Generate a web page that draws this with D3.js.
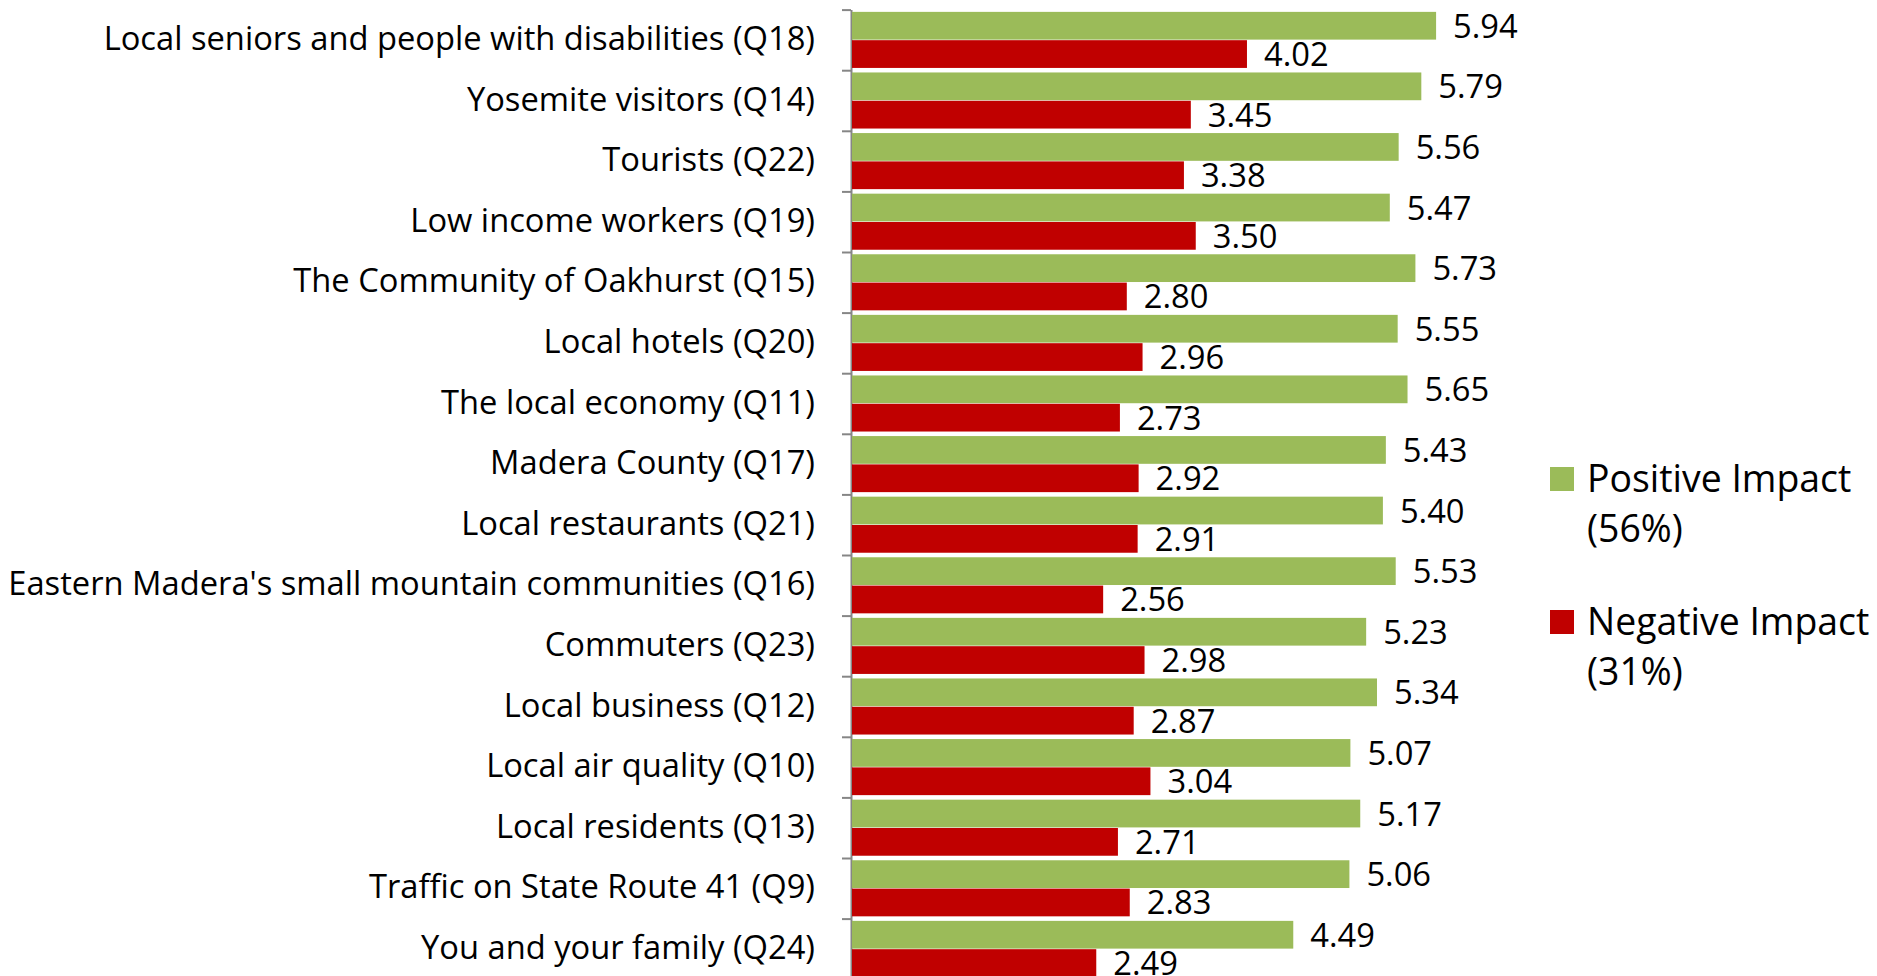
<!DOCTYPE html>
<html>
<head>
  <style>
    body {
      margin: 0;
      background: #fff;
    }
    text {
      font-family: "Open Sans", Lato, sans-serif;
      fill: #000;
    }
    .axis path, .axis line {
      stroke: #868686;
      stroke-width: 2;
    }
  </style>
</head>
<body>
  <script src="https://d3js.org/d3.v7.min.js"></script>
  <script>
    var categories = [
      "Local seniors and people with disabilities (Q18)",
      "Yosemite visitors (Q14)",
      "Tourists (Q22)",
      "Low income workers (Q19)",
      "The Community of Oakhurst (Q15)",
      "Local hotels (Q20)",
      "The local economy (Q11)",
      "Madera County (Q17)",
      "Local restaurants (Q21)",
      "Eastern Madera's small mountain communities (Q16)",
      "Commuters (Q23)",
      "Local business (Q12)",
      "Local air quality (Q10)",
      "Local residents (Q13)",
      "Traffic on State Route 41 (Q9)",
      "You and your family (Q24)"
    ];
    var positive = [5.94, 5.79, 5.56, 5.47, 5.73, 5.55, 5.65, 5.43, 5.40, 5.53, 5.23, 5.34, 5.07, 5.17, 5.06, 4.49];
    var negative = [4.02, 3.45, 3.38, 3.50, 2.80, 2.96, 2.73, 2.92, 2.91, 2.56, 2.98, 2.87, 3.04, 2.71, 2.83, 2.49];
    var seriesNames = ["Positive Impact", "Negative Impact"];
    var seriesShares = ["(56%)", "(31%)"];
    var colors = ["#9bbb59", "#c00000"];

    var width = 1877, height = 976;
    var top_ = 9.6, band = 60.6;
    var svg = d3.select("body").append("svg")
        .attr("width", width)
        .attr("height", height);

    var x = d3.scaleLinear().domain([0, 6]).range([851, 851 + 6 * 98.5]);
    var y = d3.scaleBand().domain(categories)
        .range([top_, top_ + band * categories.length]);
    var sub = d3.scaleBand().domain([0, 1]).range([0, band]).paddingOuter(0.08).paddingInner(0.02);

    // boundary ticks on the category axis
    var yEdge = d3.scaleLinear().domain([0, categories.length]).range(y.range());
    svg.append("g").attr("class", "axis")
        .attr("transform", "translate(" + x(0) + ",0)")
        .call(d3.axisLeft(yEdge).tickValues(d3.range(categories.length + 1)).tickSize(9).tickSizeOuter(0).tickFormat(""));

    // category labels
    svg.append("g").selectAll("text")
        .data(categories)
      .enter().append("text")
        .attr("x", 815)
        .attr("y", d => y(d) + band / 2 + 10)
        .style("text-anchor", "end")
        .style("font-size", "32.7px")
        .text(d => d);

    var series = [positive, negative];
    series.forEach((vals, s) => {
      var g = svg.append("g");
      g.selectAll("rect")
          .data(vals)
        .enter().append("rect")
          .attr("x", x(0) + 1)
          .attr("y", (d, i) => y(categories[i]) + sub(s))
          .attr("width", d => x(d) - x(0) - 1)
          .attr("height", sub.bandwidth())
          .attr("fill", colors[s]);
      g.selectAll("text")
          .data(vals)
        .enter().append("text")
          .attr("x", d => x(d) + 17)
          .attr("y", (d, i) => y(categories[i]) + sub(s) + sub.bandwidth() / 2 + 12)
          .style("font-size", "32.7px")
          .text(d => d.toFixed(2));
    });

    // legend
    var legend = svg.append("g").selectAll("g")
        .data(seriesNames)
      .enter().append("g")
        .attr("transform", (d, i) => "translate(1550," + (467 + i * 143) + ")");
    legend.append("rect")
        .attr("width", 24)
        .attr("height", 24)
        .attr("fill", (d, i) => colors[i]);
    legend.append("text")
        .attr("x", 37)
        .attr("y", 25)
        .style("font-size", "37.4px")
        .text(d => d);
    legend.append("text")
        .attr("x", 37)
        .attr("y", 75)
        .style("font-size", "37.4px")
        .text((d, i) => seriesShares[i]);
  </script>
</body>
</html>
